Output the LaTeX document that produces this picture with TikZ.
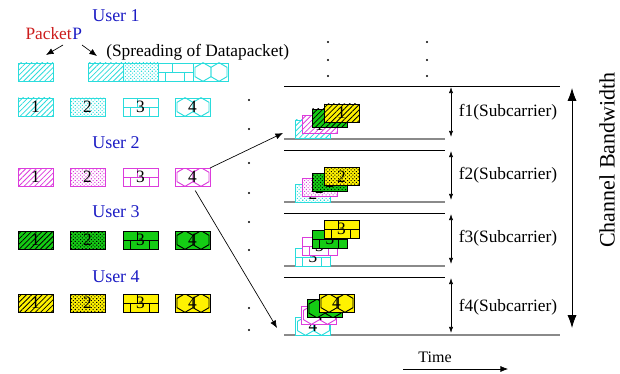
\documentclass[tikz,border=0pt]{standalone}
\usepackage{fontspec}
\setmainfont{Liberation Serif}
\usepackage{xcolor}
\definecolor{pkCyan}{HTML}{2ADCDC}
\definecolor{pkMagenta}{HTML}{DC3CDC}
\definecolor{pkGreen}{HTML}{14CC14}
\definecolor{pkYellow}{HTML}{FFF200}
\definecolor{usrBlue}{HTML}{1C1CC4}
\definecolor{pktRed}{HTML}{CC1C1C}
\definecolor{lineGrey}{HTML}{8A8A8A}
\usepackage{tikz}
\usetikzlibrary{arrows.meta, positioning, patterns.meta}

\begin{document}
\begin{tikzpicture}[x=0.75pt, y=-0.75pt,
  pkt/.style={minimum width=26.25pt, minimum height=13.5pt, inner sep=0pt, outer sep=0pt, line width=0.7pt, font=\fontsize{13}{13}\selectfont},
  pA/.style 2 args={pkt, draw=#1, preaction={fill=#2}, pattern={Lines[angle=45, distance=2.8pt, line width=0.6pt]}, pattern color=#1},
  pB/.style 2 args={pkt, draw=#1, preaction={fill=#2}, pattern={Dots[angle=45, distance=1.9pt, radius=0.55pt]}, pattern color=#1},
  pC/.style 2 args={pkt, draw=#1, fill=#2, path picture={
      \draw[#1, line width=0.7pt] (path picture bounding box.west) -- (path picture bounding box.east);
      \draw[#1, line width=0.7pt] ([xshift=11pt]path picture bounding box.north west) -- ([xshift=11pt]path picture bounding box.west);
      \draw[#1, line width=0.7pt] ([xshift=5.5pt]path picture bounding box.west) -- ([xshift=5.5pt]path picture bounding box.south west);
      \draw[#1, line width=0.7pt] ([xshift=19.5pt]path picture bounding box.west) -- ([xshift=19.5pt]path picture bounding box.south west);}},
  pD/.style 2 args={pkt, draw=#1, fill=#2, path picture={
      \draw[#1, line width=0.7pt] (path picture bounding box.west) ++(1.5pt,-3.5pt) -- ++(0pt,7pt) -- ++(6pt,3.5pt) -- ++(6pt,-3.5pt) -- ++(0pt,-7pt) -- ++(-6pt,-3.5pt) -- cycle;
      \draw[#1, line width=0.7pt] (path picture bounding box.west) ++(13.5pt,-3.5pt) -- ++(0pt,7pt) -- ++(6pt,3.5pt) -- ++(6pt,-3.5pt) -- ++(0pt,-7pt) -- ++(-6pt,-3.5pt) -- cycle;}},
  usr/.style={text=usrBlue, font=\fontsize{13.5}{14}\selectfont},
  lbl/.style={font=\fontsize{13}{14}\selectfont},
  arr/.style={-{Latex[length=2mm, width=1.6mm]}, line width=0.5pt},
  dim/.style={{Latex[length=1.6mm, width=1.1mm]}-{Latex[length=1.6mm, width=1.1mm]}, line width=0.5pt},
  bw/.style={{Latex[length=3.4mm, width=2.4mm]}-{Latex[length=3.4mm, width=2.4mm]}, line width=0.6pt},
]
  \useasboundingbox (0,0) rectangle (620,374);

  % users and their packets
  \node[usr] (user1) at (116,16) {User 1};
  \node[lbl, text=pktRed, anchor=base east, inner sep=0pt] (pkt) at (72,40) {Packet};
  \node[lbl, text=usrBlue, anchor=base west, inner sep=0pt] (pp) at (pkt.base east) {P};
  \node[lbl, anchor=west, inner sep=0pt] (spread) at (106,52) {(Spreading of Datapacket)};
  \coordinate (pa0) at (63,45);
  \coordinate (pa1) at (46,55);
  \coordinate (pb0) at (82,45);
  \coordinate (pb1) at (97,56);
  \draw[arr] (pa0) -- (pa1);
  \draw[arr] (pb0) -- (pb1);

  \node[pA={pkCyan}{white}] (single) at (35.5,72) {};
  \node[pA={pkCyan}{white}] (sp1) at (105.5,72) {};
  \node[pB={pkCyan}{white}, right=0pt of sp1] (sp2) {};
  \node[pC={pkCyan}{white}, right=0pt of sp2] (sp3) {};
  \node[pD={pkCyan}{white}, right=0pt of sp3] (sp4) {};

  \node[pA={pkCyan}{white}] (u1a) at (35.5,107) {1};
  \node[pB={pkCyan}{white}] (u1b) at (87.5,107) {2};
  \node[pC={pkCyan}{white}] (u1c) at (140.5,107) {3};
  \node[pD={pkCyan}{white}] (u1d) at (192.5,107) {4};

  \node[usr] (user2) at (116,143) {User 2};
  \node[pA={pkMagenta}{white}] (u2a) at (35.5,177) {1};
  \node[pB={pkMagenta}{white}] (u2b) at (87.5,177) {2};
  \node[pC={pkMagenta}{white}] (u2c) at (140.5,177) {3};
  \node[pD={pkMagenta}{white}] (u2d) at (192.5,177) {4};

  \node[usr] (user3) at (116,212) {User 3};
  \node[pA={black}{pkGreen}] (u3a) at (35.5,240) {1};
  \node[pB={black}{pkGreen}] (u3b) at (87.5,240) {2};
  \node[pC={black}{pkGreen}] (u3c) at (140.5,240) {3};
  \node[pD={black}{pkGreen}] (u3d) at (192.5,240) {4};

  \node[usr] (user4) at (116,277) {User 4};
  \node[pA={black}{pkYellow}] (u4a) at (35.5,303) {1};
  \node[pB={black}{pkYellow}] (u4b) at (87.5,303) {2};
  \node[pC={black}{pkYellow}] (u4c) at (140.5,303) {3};
  \node[pD={black}{pkYellow}] (u4d) at (192.5,303) {4};

  % dots
  \fill (249,100) circle (0.9pt) (249,129) circle (0.9pt) (249,163) circle (0.9pt) (249,193) circle (0.9pt);
  \fill (249,222) circle (0.9pt) (249,250) circle (0.9pt) (249,308) circle (0.9pt) (249,330) circle (0.9pt);
  \fill (328,42) circle (0.9pt) (328,60) circle (0.9pt) (328,76) circle (0.9pt);
  \fill (427,42) circle (0.9pt) (427,60) circle (0.9pt) (427,76) circle (0.9pt);

  % subcarrier bands
  \draw[line width=0.6pt] (284,86) -- (560,86);
  \draw[lineGrey, line width=1pt] (284,139) -- (445,139);
  \draw[line width=0.6pt] (284,150) -- (445,150);
  \draw[lineGrey, line width=1pt] (284,202) -- (445,202);
  \draw[line width=0.6pt] (284,213) -- (445,213);
  \draw[lineGrey, line width=1pt] (284,266) -- (445,266);
  \draw[line width=0.6pt] (284,277) -- (445,277);
  \draw[lineGrey, line width=1pt] (284,335) -- (560,335);

  \node[pA={pkCyan}{white}] (f1c) at (313,129) {1};
  \node[pA={pkMagenta}{white}] (f1m) at (319.5,124.5) {1};
  \node[pA={black}{pkGreen}] (f1g) at (330,118) {1};
  \node[pA={black}{pkYellow}] (f1y) at (341.5,113) {1};

  \node[pB={pkCyan}{white}] (f2c) at (313,193.5) {2};
  \node[pB={pkMagenta}{white}] (f2m) at (319.5,187.5) {2};
  \node[pB={black}{pkGreen}] (f2g) at (330,182) {2};
  \node[pB={black}{pkYellow}] (f2y) at (341.5,176.5) {2};

  \node[pC={pkCyan}{white}] (f3c) at (313,257) {3};
  \node[pC={pkMagenta}{white}] (f3m) at (319.5,246) {3};
  \node[pC={black}{pkGreen}] (f3g) at (330,239) {3};
  \node[pC={black}{pkYellow}] (f3y) at (341.5,229) {3};

  \node[pD={pkCyan}{white}] (f4c) at (313,326) {4};
  \node[pD={pkMagenta}{white}] (f4m) at (319,315) {4};
  \node[pD={black}{pkGreen}] (f4g) at (324.5,308.5) {4};
  \node[pD={black}{pkYellow}] (f4y) at (336.5,303) {4};

  \coordinate (tip1) at (283,133);
  \coordinate (tip4) at (277,328);
  \draw[arr] (u2d.north east) -- (tip1);
  \draw[arr, shorten <=4pt] (u2d.south) -- (tip4);

  \draw[dim] (451,87) -- (451,137);
  \draw[dim] (451,151) -- (451,200);
  \draw[dim] (451,214) -- (451,264);
  \draw[dim] (451,278) -- (451,333);
  \node[lbl] (f1) at (508,112) {f1(Subcarrier)};
  \node[lbl] (f2) at (508,175) {f2(Subcarrier)};
  \node[lbl] (f3) at (508,238) {f3(Subcarrier)};
  \node[lbl] (f4) at (508,307) {f4(Subcarrier)};

  \draw[bw] (572,88) -- (572,328);
  \node[font=\fontsize{16.5}{17}\selectfont, rotate=90, inner sep=0pt] (chbw) at (607,160) {Channel Bandwidth};

  \node[font=\fontsize{12}{12}\selectfont] (time) at (435,357) {Time};
  \coordinate (t0) at (403,369);
  \coordinate (t1) at (508,369);
  \draw[arr] (t0) -- (t1);
\end{tikzpicture}
\end{document}
